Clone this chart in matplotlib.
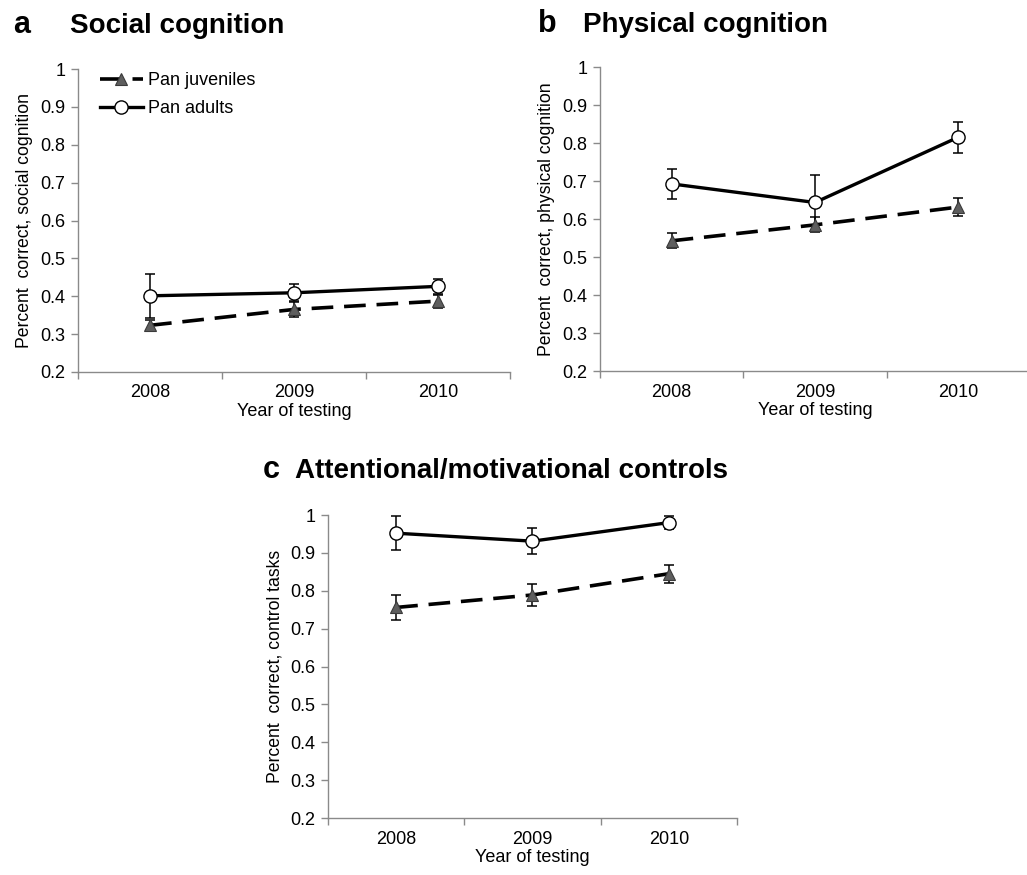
import numpy as np
import matplotlib
matplotlib.use("Agg")
import matplotlib.pyplot as plt

plt.rcParams["font.family"] = ["Liberation Sans", "DejaVu Sans"]

years = ["2008", "2009", "2010"]
yticks = [0.2, 0.3, 0.4, 0.5, 0.6, 0.7, 0.8, 0.9, 1.0]
ytick_labels = ["0.2", "0.3", "0.4", "0.5", "0.6", "0.7", "0.8", "0.9", "1"]

social_adults = [0.401, 0.409, 0.426]
social_adults_err = [0.058, 0.022, 0.020]
social_juv = [0.323, 0.365, 0.387]
social_juv_err = [0.015, 0.020, 0.017]

physical_adults = [0.693, 0.644, 0.816]
physical_adults_err = [0.040, 0.072, 0.041]
physical_juv = [0.543, 0.585, 0.632]
physical_juv_err = [0.020, 0.020, 0.024]

control_adults = [0.952, 0.931, 0.980]
control_adults_err = [0.045, 0.035, 0.017]
control_juv = [0.756, 0.789, 0.845]
control_juv_err = [0.033, 0.028, 0.024]

GRAY = "#8a8a8a"
FS = 13


def panel(ax, adults, adults_err, juv, juv_err, ylabel, legend=False):
    x = np.arange(len(years)) + 0.5
    ax.errorbar(x, adults, yerr=adults_err, fmt="none", ecolor="black",
                elinewidth=1.1, capsize=3.5, capthick=1.1, zorder=2)
    ax.errorbar(x, juv, yerr=juv_err, fmt="none", ecolor="black",
                elinewidth=1.1, capsize=3.5, capthick=1.1, zorder=2)
    ax.plot(x, juv, color="black", lw=2.6, dashes=(6, 3), marker="^",
            markersize=9, markerfacecolor="#5e5e5e", markeredgecolor="#3a3a3a",
            markeredgewidth=0.8, label="Pan juveniles", zorder=3)
    ax.plot(x, adults, color="black", lw=2.4, marker="o",
            markersize=9.5, markerfacecolor="white", markeredgecolor="black",
            markeredgewidth=1.0, label="Pan adults", zorder=4)

    ax.set_xlim(0, 3)
    ax.set_ylim(0.2, 1.0)
    ax.set_yticks(yticks)
    ax.set_yticklabels(ytick_labels)
    ax.set_xticks([0, 1, 2, 3])
    ax.set_xticklabels([])
    ax.set_xticks(x, minor=True)
    ax.set_xticklabels(years, minor=True)
    ax.tick_params(axis="x", which="minor", length=0, pad=9, labelsize=FS)
    ax.tick_params(axis="x", which="major", length=5, width=1, color=GRAY)
    ax.tick_params(axis="y", length=5, width=1, color=GRAY, pad=4, labelsize=FS)
    for s in ["top", "right"]:
        ax.spines[s].set_visible(False)
    for s in ["left", "bottom"]:
        ax.spines[s].set_color(GRAY)
        ax.spines[s].set_linewidth(1.0)
    ax.set_xlabel("Year of testing", fontsize=FS, labelpad=1)
    ax.set_ylabel(ylabel, fontsize=12.7, labelpad=5)
    if legend:
        ax.legend(loc="upper left", bbox_to_anchor=(0.05, 0.99), frameon=False,
                  fontsize=FS, handlelength=2.4, handletextpad=0.3,
                  labelspacing=0.6, borderpad=0, borderaxespad=0)


fig = plt.figure(figsize=(10.27, 8.75), dpi=100)

ax_a = fig.add_axes([0.076, 0.575, 0.4206, 0.346])
panel(ax_a, social_adults, social_adults_err, social_juv, social_juv_err,
      "Percent  correct, social cognition", legend=True)

ax_b = fig.add_axes([0.5842, 0.576, 0.4187, 0.347])
panel(ax_b, physical_adults, physical_adults_err, physical_juv, physical_juv_err,
      "Percent  correct, physical cognition")

ax_c = fig.add_axes([0.3194, 0.0651, 0.3982, 0.3463])
panel(ax_c, control_adults, control_adults_err, control_juv, control_juv_err,
      "Percent  correct, control tasks")

title_kw = dict(fontsize=20, fontweight="bold", va="baseline")
fig.text(13 / 1027, 1 - 33 / 875, "a", **dict(title_kw, fontsize=22))
fig.text(70 / 1027, 1 - 33 / 875, "Social cognition", **title_kw)
fig.text(538 / 1027, 1 - 32 / 875, "b", **dict(title_kw, fontsize=22))
fig.text(583 / 1027, 1 - 32 / 875, "Physical cognition", **title_kw)
fig.text(263 / 1027, 1 - 478 / 875, "c", **dict(title_kw, fontsize=22))
fig.text(295 / 1027, 1 - 478 / 875, "Attentional/motivational controls", **title_kw)

fig.savefig("out.png", dpi=100)
